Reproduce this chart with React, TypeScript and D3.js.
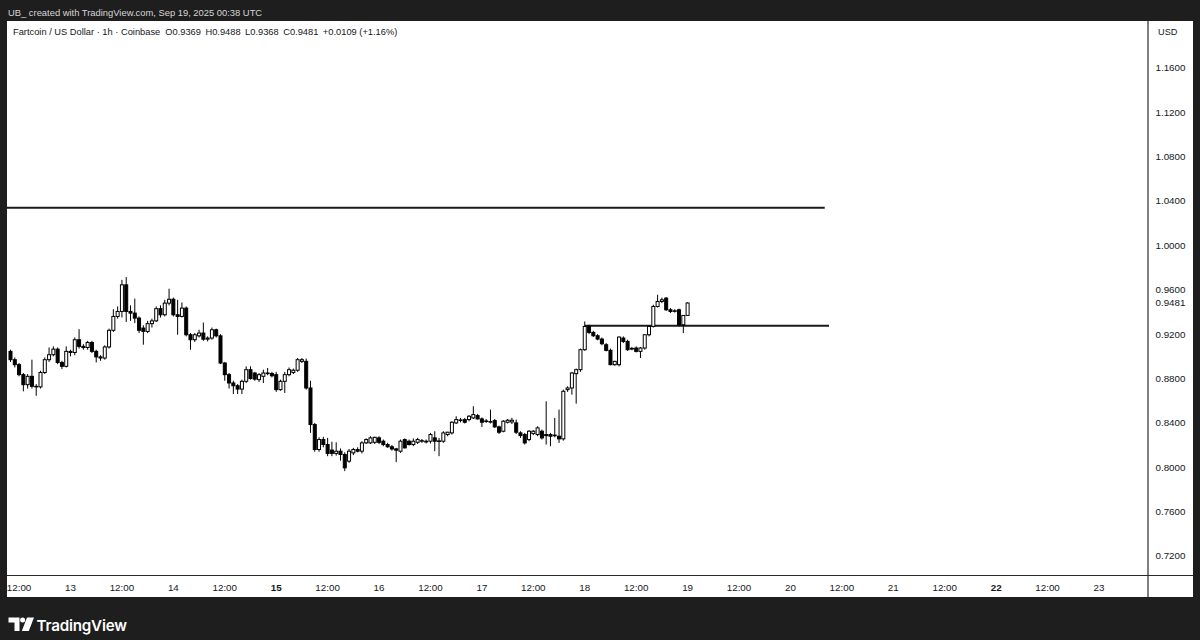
import React from "react";
import * as d3 from "d3";

// ---------- data ----------
const FIRST_CANDLE = Date.UTC(2025, 8, 12, 10); // Sep 12 10:00 UTC
const HOUR = 3600 * 1000;

// hourly candles: [open, high, low, close]
const candles: [number, number, number, number][] = [
  [0.9045, 0.906, 0.895, 0.897],
  [0.897, 0.899, 0.89, 0.8925],
  [0.8925, 0.894, 0.882, 0.8835],
  [0.8835, 0.885, 0.8685, 0.8745],
  [0.8745, 0.884, 0.871, 0.882],
  [0.882, 0.897, 0.871, 0.873],
  [0.873, 0.875, 0.8645, 0.8725],
  [0.8725, 0.887, 0.871, 0.8855],
  [0.8855, 0.899, 0.884, 0.897],
  [0.897, 0.908, 0.895, 0.9015],
  [0.9015, 0.909, 0.9, 0.9065],
  [0.9065, 0.908, 0.893, 0.8945],
  [0.8945, 0.896, 0.8885, 0.891],
  [0.891, 0.909, 0.89, 0.9045],
  [0.9045, 0.906, 0.9, 0.9035],
  [0.9035, 0.917, 0.901, 0.915],
  [0.915, 0.9245, 0.907, 0.909],
  [0.909, 0.911, 0.906, 0.908],
  [0.908, 0.914, 0.906, 0.9125],
  [0.9125, 0.914, 0.903, 0.9045],
  [0.9045, 0.906, 0.8945, 0.8995],
  [0.8995, 0.901, 0.896, 0.8985],
  [0.8985, 0.91, 0.897, 0.9085],
  [0.9085, 0.925, 0.907, 0.9235],
  [0.9235, 0.9425, 0.922, 0.936],
  [0.936, 0.945, 0.934, 0.9405],
  [0.9405, 0.969, 0.935, 0.9645],
  [0.9645, 0.9715, 0.931, 0.9405],
  [0.9405, 0.946, 0.932, 0.939],
  [0.939, 0.952, 0.93, 0.9345],
  [0.9345, 0.936, 0.921, 0.9235],
  [0.9255, 0.928, 0.9105, 0.9225],
  [0.9225, 0.932, 0.921, 0.9295],
  [0.9295, 0.934, 0.926, 0.932],
  [0.932, 0.945, 0.931, 0.943],
  [0.943, 0.946, 0.935, 0.9375],
  [0.9375, 0.951, 0.936, 0.948],
  [0.948, 0.961, 0.946, 0.9515],
  [0.9515, 0.953, 0.936, 0.9375],
  [0.9375, 0.951, 0.9195, 0.936],
  [0.936, 0.9486, 0.935, 0.9435],
  [0.9435, 0.945, 0.918, 0.9195],
  [0.9195, 0.921, 0.906, 0.915],
  [0.915, 0.921, 0.913, 0.9195],
  [0.9185, 0.924, 0.917, 0.921],
  [0.921, 0.9305, 0.914, 0.9155],
  [0.9155, 0.918, 0.9135, 0.9165],
  [0.9165, 0.926, 0.915, 0.924],
  [0.924, 0.925, 0.917, 0.9185],
  [0.9185, 0.92, 0.893, 0.894],
  [0.894, 0.895, 0.878, 0.8835],
  [0.8835, 0.885, 0.871, 0.876],
  [0.876, 0.878, 0.866, 0.8735],
  [0.8735, 0.875, 0.866, 0.8705],
  [0.8705, 0.879, 0.866, 0.8775],
  [0.8775, 0.891, 0.876, 0.888],
  [0.888, 0.891, 0.879, 0.88],
  [0.885, 0.886, 0.878, 0.8795],
  [0.879, 0.885, 0.877, 0.8835],
  [0.882, 0.888, 0.876, 0.885],
  [0.885, 0.8895, 0.883, 0.8845],
  [0.8845, 0.886, 0.881, 0.8825],
  [0.8835, 0.886, 0.868, 0.87],
  [0.87, 0.879, 0.869, 0.8775],
  [0.8775, 0.886, 0.867, 0.8835],
  [0.8835, 0.89, 0.882, 0.888],
  [0.8855, 0.889, 0.884, 0.8875],
  [0.8875, 0.8985, 0.886, 0.897],
  [0.8955, 0.8985, 0.894, 0.897],
  [0.8955, 0.898, 0.87, 0.8715],
  [0.8715, 0.878, 0.831, 0.8385],
  [0.8385, 0.84, 0.814, 0.816],
  [0.816, 0.827, 0.814, 0.825],
  [0.825, 0.8275, 0.818, 0.8205],
  [0.8205, 0.8265, 0.81, 0.8125],
  [0.8155, 0.823, 0.81, 0.8125],
  [0.8125, 0.8225, 0.8105, 0.8145],
  [0.8145, 0.817, 0.806, 0.8115],
  [0.8115, 0.8135, 0.7965, 0.7995],
  [0.8055, 0.8165, 0.804, 0.8145],
  [0.813, 0.8175, 0.811, 0.816],
  [0.816, 0.818, 0.8135, 0.8145],
  [0.8145, 0.8235, 0.8125, 0.822],
  [0.822, 0.826, 0.821, 0.825],
  [0.822, 0.828, 0.821, 0.8265],
  [0.8225, 0.8275, 0.821, 0.827],
  [0.8265, 0.828, 0.821, 0.8225],
  [0.8235, 0.825, 0.819, 0.8205],
  [0.8205, 0.822, 0.8175, 0.8185],
  [0.8185, 0.82, 0.815, 0.8165],
  [0.8166, 0.8175, 0.8046, 0.8154],
  [0.8145, 0.825, 0.813, 0.8235],
  [0.825, 0.826, 0.817, 0.8175],
  [0.8235, 0.825, 0.8195, 0.8205],
  [0.8205, 0.826, 0.819, 0.8235],
  [0.8225, 0.8265, 0.821, 0.825],
  [0.8235, 0.8255, 0.822, 0.824],
  [0.8235, 0.825, 0.8215, 0.8228],
  [0.8235, 0.831, 0.8215, 0.8295],
  [0.8265, 0.8325, 0.8145, 0.8235],
  [0.8235, 0.8265, 0.81, 0.8238],
  [0.8235, 0.8325, 0.822, 0.831],
  [0.8295, 0.832, 0.828, 0.8316],
  [0.831, 0.8415, 0.8295, 0.8406],
  [0.84, 0.846, 0.839, 0.843],
  [0.8424, 0.8445, 0.8405, 0.8427],
  [0.843, 0.8445, 0.8395, 0.8406],
  [0.843, 0.847, 0.8415, 0.846],
  [0.8445, 0.855, 0.8435, 0.8475],
  [0.8466, 0.848, 0.843, 0.8436],
  [0.8436, 0.845, 0.8364, 0.8406],
  [0.8415, 0.8435, 0.84, 0.8418],
  [0.8409, 0.852, 0.8395, 0.8412],
  [0.8421, 0.8435, 0.8355, 0.8364],
  [0.8364, 0.8375, 0.83, 0.8316],
  [0.8325, 0.8425, 0.8315, 0.8415],
  [0.8406, 0.8435, 0.8395, 0.8424],
  [0.8409, 0.8445, 0.839, 0.8424],
  [0.84, 0.843, 0.83, 0.8316],
  [0.831, 0.8325, 0.8265, 0.8286],
  [0.8295, 0.831, 0.8205, 0.822],
  [0.825, 0.8335, 0.8235, 0.8325],
  [0.8304, 0.8335, 0.829, 0.8325],
  [0.8295, 0.837, 0.828, 0.8355],
  [0.8325, 0.834, 0.825, 0.8265],
  [0.8295, 0.8595, 0.8205, 0.8285],
  [0.8295, 0.831, 0.819, 0.828],
  [0.8285, 0.8445, 0.827, 0.829],
  [0.828, 0.852, 0.822, 0.8256],
  [0.8256, 0.87, 0.824, 0.8685],
  [0.87, 0.873, 0.868, 0.8715],
  [0.8715, 0.886, 0.8655, 0.885],
  [0.8844, 0.889, 0.8574, 0.888],
  [0.888, 0.907, 0.886, 0.906],
  [0.906, 0.9315, 0.905, 0.927],
  [0.927, 0.9285, 0.92, 0.9216],
  [0.9216, 0.923, 0.9175, 0.9186],
  [0.9186, 0.92, 0.9145, 0.9156],
  [0.9156, 0.917, 0.91, 0.9114],
  [0.9105, 0.912, 0.9045, 0.9054],
  [0.9054, 0.907, 0.892, 0.8925],
  [0.8925, 0.896, 0.8915, 0.8955],
  [0.8925, 0.918, 0.891, 0.9174],
  [0.9165, 0.918, 0.912, 0.9135],
  [0.9135, 0.915, 0.905, 0.906],
  [0.9072, 0.9085, 0.9055, 0.9069],
  [0.9075, 0.909, 0.9035, 0.9045],
  [0.9045, 0.9085, 0.8985, 0.9075],
  [0.9075, 0.92, 0.906, 0.9195],
  [0.9195, 0.928, 0.918, 0.927],
  [0.927, 0.9465, 0.926, 0.945],
  [0.945, 0.9555, 0.944, 0.9495],
  [0.9495, 0.953, 0.948, 0.951],
  [0.9525, 0.9535, 0.941, 0.942],
  [0.942, 0.9435, 0.939, 0.9405],
  [0.9408, 0.9425, 0.9395, 0.9411],
  [0.942, 0.943, 0.927, 0.9285],
  [0.9285, 0.937, 0.921, 0.9369],
  [0.9369, 0.9488, 0.9368, 0.9481],
];

const priceTicks = [0.72, 0.76, 0.8, 0.84, 0.88, 0.92, 0.96, 1.0, 1.04, 1.08, 1.12, 1.16];
const lastPrice = 0.9481;

const levelPrices = [1.034, 0.9276];
const levelStarts = [Date.UTC(2025, 8, 12, 0), Date.UTC(2025, 8, 18, 0)];
const levelEnds = [Date.UTC(2025, 8, 20, 8), Date.UTC(2025, 8, 20, 9)];

const headerText = "UB_ created with TradingView.com, Sep 19, 2025 00:38 UTC";
const legendName = "Fartcoin / US Dollar · 1h · Coinbase";
const legendValues = ["O0.9369", "H0.9488", "L0.9368", "C0.9481", "+0.0109 (+1.16%)"];

const axisStart = Date.UTC(2025, 8, 12, 12);
const axisEnd = Date.UTC(2025, 8, 23, 0);

// ---------- component ----------
export default function App() {
  const W = 1200;
  const H = 640;
  const panel = { x0: 7, x1: 1193, y0: 21, y1: 597 };
  const plot = { x0: 7, x1: 1148, y0: 21, y1: 575.5 };
  const bg = "#1e1e1e";
  const ink = "#131722";
  const font = "'Liberation Sans', Arial, sans-serif";

  const x = d3
    .scaleUtc()
    .domain([new Date(Date.UTC(2025, 8, 13)), new Date(Date.UTC(2025, 8, 23))])
    .range([70.5, 1099]);
  const y = d3.scaleLinear().domain([0.72, 1.16]).range([556, 68]);

  const bodyW = 3;
  const timeTicks = d3.utcHour.every(12)!.range(new Date(axisStart), new Date(axisEnd + 1));
  const fmtP = d3.format(".4f");

  return (
    <svg
      width={W}
      height={H}
      style={{ position: "absolute", left: 0, top: 0, display: "block" }}
      fontFamily={font}
    >
      <defs>
        <clipPath id="plotClip">
          <rect x={plot.x0} y={plot.y0} width={plot.x1 - plot.x0} height={plot.y1 - plot.y0} />
        </clipPath>
      </defs>
      <rect x={0} y={0} width={W} height={H} fill={bg} />
      <text x={8} y={15.5} fontSize={9.4} fill="#d6d6d6">
        {headerText}
      </text>
      <rect x={panel.x0} y={panel.y0} width={panel.x1 - panel.x0} height={panel.y1 - panel.y0} fill="#ffffff" />

      {/* legend */}
      <text x={13} y={35} fontSize={9.3} fill={ink}>
        {legendName}
        {legendValues.map((v, i) => (
          <tspan key={i} dx={i === 0 ? 5 : 4.5}>
            {v}
          </tspan>
        ))}
      </text>

      {/* candles */}
      <g clipPath="url(#plotClip)">
        {levelPrices.map((p, i) => (
          <line
            key={"lv" + i}
            x1={x(new Date(levelStarts[i]))}
            x2={x(new Date(levelEnds[i]))}
            y1={y(p)}
            y2={y(p)}
            stroke="#1a1a1a"
            strokeWidth={2}
          />
        ))}
        {candles.map((c, i) => {
          const [o, h, l, cl] = c;
          const cx = x(new Date(FIRST_CANDLE + i * HOUR));
          const up = cl >= o;
          const top = y(Math.max(o, cl));
          const bot = y(Math.min(o, cl));
          return (
            <g key={i}>
              <line x1={cx} x2={cx} y1={y(h)} y2={y(l)} stroke="#000" strokeWidth={1} />
              <rect
                x={cx - bodyW / 2}
                y={top}
                width={bodyW}
                height={Math.max(bot - top, 0.6)}
                fill={up ? "#ffffff" : "#000000"}
                stroke="#000"
                strokeWidth={1}
              />
            </g>
          );
        })}
      </g>

      {/* separators */}
      <line x1={plot.x1} x2={plot.x1} y1={panel.y0} y2={panel.y1} stroke="#2b2b2b" strokeWidth={1.2} />
      <line x1={panel.x0} x2={panel.x1} y1={plot.y1} y2={plot.y1} stroke="#2b2b2b" strokeWidth={1.2} />

      {/* price axis */}
      <text x={1158} y={35} fontSize={9.2} fill={ink}>
        USD
      </text>
      {priceTicks.map((p) => (
        <text key={p} x={1155.5} y={y(p) + 3.4} fontSize={9.8} fill={ink}>
          {fmtP(p)}
        </text>
      ))}
      <text x={1155.5} y={y(lastPrice) + 3.4} fontSize={9.8} fill={ink}>
        {fmtP(lastPrice)}
      </text>

      {/* time axis */}
      {timeTicks.map((t) => {
        const isNoon = t.getUTCHours() === 12;
        const label = isNoon ? "12:00" : String(t.getUTCDate());
        const bold = !isNoon && t.getUTCDay() === 1;
        return (
          <text
            key={t.getTime()}
            x={x(t)}
            y={591}
            fontSize={9.8}
            textAnchor="middle"
            fontWeight={bold ? 700 : 400}
            fill={ink}
          >
            {label}
          </text>
        );
      })}

      {/* TradingView logo */}
      <g fill="#ffffff">
        <path d="M8.5 617.5 H19.5 V631 H14.5 V622.5 H8.5 Z" />
        <circle cx={22.6} cy={620} r={2.5} />
        <path d="M27 617.5 H34 L28.8 631 H21.8 Z" />
      </g>
      <text x={36.5} y={630.5} fontSize={15.2} fontWeight={600} fill="#ffffff" fontFamily="Inter, 'Noto Sans', sans-serif" letterSpacing={-0.2}>
        TradingView
      </text>
    </svg>
  );
}
